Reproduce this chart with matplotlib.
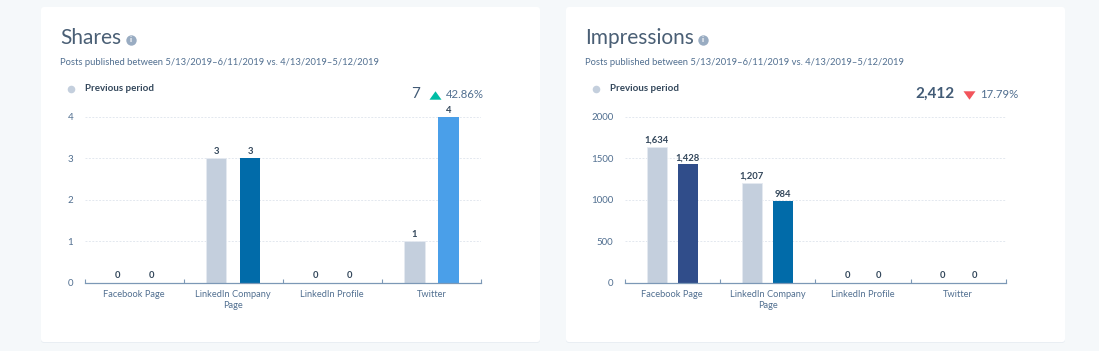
import matplotlib
matplotlib.use("Agg")
import matplotlib.pyplot as plt
from matplotlib.patches import FancyBboxPatch
from matplotlib.transforms import ScaledTranslation

plt.rcParams['font.family'] = ['Lato', 'DejaVu Sans']

# data
categories = ["Facebook Page", "LinkedIn Company\nPage", "LinkedIn Profile", "Twitter"]
colors = ["#304d8a", "#016ba9", "#3f8fd0", "#4a9fe9"]
prev_color = "#c4cfdd"

shares_prev = [0, 3, 0, 1]
shares_cur = [0, 3, 0, 4]
shares_ticks = [0, 1, 2, 3, 4]

impr_prev = [1634, 1207, 0, 0]
impr_cur = [1428, 984, 0, 0]
impr_ticks = [0, 500, 1000, 1500, 2000]

W, H = 1099, 351
fig = plt.figure(figsize=(W / 100, H / 100), dpi=100, facecolor="#f5f8fa")

# background layer in pixel coordinates
bg = fig.add_axes([0, 0, 1, 1])
bg.set_xlim(0, W)
bg.set_ylim(H, 0)
bg.axis("off")


def card(x0, x1):
    shadow = FancyBboxPatch((x0, 8), x1 - x0, 335, boxstyle="round,pad=0,rounding_size=3",
                            fc="#e9eef3", ec="none")
    bg.add_patch(shadow)
    bg.add_patch(FancyBboxPatch((x0, 7), x1 - x0, 335, boxstyle="round,pad=0,rounding_size=3",
                                fc="white", ec="none"))


def header(x, title, icon_x, total, total_x, arrow_x, arrow, arrow_color, pct, pct_x, bold_total):
    bg.text(x, 38.5, title, fontsize=15, color="#4a5f75", va="center")
    bg.scatter([icon_x], [40], s=56, color="#99acc2", zorder=3, linewidths=0)
    bg.text(icon_x, 40, "i", fontsize=6, color="white", weight="bold", ha="center", va="center", zorder=4)
    bg.text(x, 62.5, "Posts published between 5/13/2019–6/11/2019 vs. 4/13/2019–5/12/2019",
            fontsize=6.77, color="#516f90", va="center")
    bg.scatter([x + 11], [89], s=30, color=prev_color, linewidths=0)
    bg.text(x + 25, 88.5, "Previous period", fontsize=7, color="#33475b", weight="bold", va="center")
    bg.text(total_x, 93.5, total, fontsize=11, color="#425b76", weight="bold" if bold_total else "normal",
            ha="right", va="center")
    # flattened triangle, wider than it is tall
    tri = [(-1, 0.7), (1, 0.7), (0, -0.7)] if arrow == "v" else [(-1, -0.7), (1, -0.7), (0, 0.7)]
    bg.scatter([arrow_x], [94.5], marker=tri, s=75, color=arrow_color, linewidths=0)
    bg.text(pct_x, 94, pct, fontsize=8.2, color="#516f90", ha="right", va="center")


def chart(x0, x1, prev, cur, ticks, offset, width):
    top, bottom = 117, 282.5
    ax = fig.add_axes([x0 / W, 1 - bottom / H, (x1 - x0) / W, (bottom - top) / H])
    ax.patch.set_alpha(0)
    ax.set_xlim(-0.5, 3.5)
    ax.set_ylim(0, ticks[-1])
    pos = list(range(len(categories)))
    ax.bar([p - offset for p in pos], prev, width, color=prev_color, edgecolor="#e5eaf1", linewidth=0.6, zorder=2)
    ax.bar([p + offset for p in pos], cur, width, color=colors, zorder=2)
    for p, a, b in zip(pos, prev, cur):
        ax.annotate(f"{a:,}", (p - offset, a), xytext=(0, 3), textcoords="offset points", ha="center",
                    fontsize=6.8, weight="bold", color="#33475b", annotation_clip=False)
        ax.annotate(f"{b:,}", (p + offset, b), xytext=(0, 3), textcoords="offset points", ha="center",
                    fontsize=6.8, weight="bold", color="#33475b", annotation_clip=False)
    ax.set_yticks(ticks)
    ax.set_yticklabels([str(t) for t in ticks], fontsize=7, color="#516f90")
    # labels sit a touch below their gridlines in the original
    for lab in ax.get_yticklabels():
        lab.set_transform(lab.get_transform() + ScaledTranslation(0, -1.2 / 100, fig.dpi_scale_trans))
    ax.set_xticks(pos)
    ax.set_xticklabels(categories, fontsize=6.7, color="#516f90", linespacing=1.25)
    ax.set_xticks([-0.5, 0.5, 1.5, 2.5, 3.5], minor=True)
    ax.tick_params(axis="x", which="major", length=0, pad=5.5)
    ax.tick_params(axis="x", which="minor", direction="in", length=3.2, width=0.8, color="#7c98b6")
    ax.tick_params(axis="y", length=0, pad=8)
    ax.grid(axis="y", color="#e3e8ef", linestyle=(0, (2, 1.5)), linewidth=0.7, zorder=1)
    for s in ["top", "left", "right"]:
        ax.spines[s].set_visible(False)
    ax.spines["bottom"].set_color("#7c98b6")
    ax.spines["bottom"].set_linewidth(0.9)
    ax.spines["bottom"].set_zorder(3)


card(41, 540)
card(566, 1065)

header(60, "Shares", 131, "7", 420, 435, "^", "#00bda5", "42.86%", 484, False)
header(585, "Impressions", 703, "2,412", 955, 969, "v", "#f2545b", "17.79%", 1018, True)

chart(84.5, 481, shares_prev, shares_cur, shares_ticks, 0.172, 0.207)
chart(624.6, 1006, impr_prev, impr_cur, impr_ticks, 0.165, 0.21)

fig.savefig("out.png", dpi=100, facecolor=fig.get_facecolor())
